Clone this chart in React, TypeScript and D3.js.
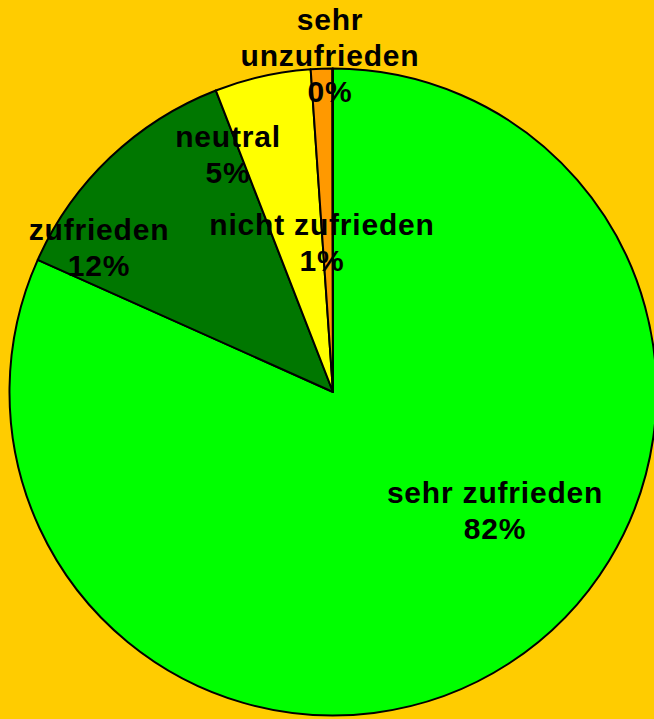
import { useEffect, useRef } from 'react';
import * as d3 from 'd3';

// Zufriedenheit – Anteile in Prozent
const categories = ['sehr zufrieden', 'zufrieden', 'neutral', 'nicht zufrieden', 'sehr unzufrieden'];
const values = [81.7, 12.4, 4.8, 1.07, 0.03];
const percentLabels = ['82%', '12%', '5%', '1%', '0%'];
const sliceColors = ['#00FF00', '#007700', '#FFFF00', '#FF9900', '#FF0000'];
// label lines (split name) and offsets from the pie centre
const labelLines = [['sehr zufrieden'], ['zufrieden'], ['neutral'], ['nicht zufrieden'], ['sehr', 'unzufrieden']];
const labelOffsets: [number, number][] = [[162, 111], [-234, -152], [-105, -245], [-11, -157], [-3, -362]];

const App = () => {
  const svgRef = useRef<SVGSVGElement>(null);

  useEffect(() => {
    const width = 654;
    const height = 719;
    const cx = 333;
    const cy = 392;
    const radius = 323.5;
    const fontSize = 30;
    const lineH = 36;

    const svg = d3.select(svgRef.current)
      .attr('width', width)
      .attr('height', height);
    svg.selectAll('*').remove();

    svg.append('rect')
      .attr('width', width)
      .attr('height', height)
      .attr('fill', '#FFCC00');

    const data = categories.map((c, i) => ({ name: c, value: values[i], i }));

    const pie = d3.pie<{ name: string; value: number; i: number }>()
      .sort(null)
      .value(d => d.value)
      .startAngle(0)
      .endAngle(2 * Math.PI);

    const arc = d3.arc<d3.PieArcDatum<{ name: string; value: number; i: number }>>()
      .innerRadius(0)
      .outerRadius(radius);

    const g = svg.append('g').attr('transform', `translate(${cx},${cy})`);

    g.selectAll('path')
      .data(pie(data))
      .join('path')
      .attr('d', arc)
      .attr('fill', d => sliceColors[d.data.i])
      .attr('stroke', '#000')
      .attr('stroke-width', 2)
      .attr('stroke-linejoin', 'round');

    const labels = g.append('g')
      .attr('font-family', 'Liberation Sans, Arial, sans-serif')
      .attr('font-weight', 'bold')
      .attr('font-size', fontSize)
      .attr('letter-spacing', 0.8)
      .attr('text-anchor', 'middle')
      .attr('fill', '#000');

    data.forEach((d, i) => {
      const [ox, oy] = labelOffsets[i];
      const lines = [...labelLines[i], percentLabels[i]];
      const t = labels.append('text')
        .attr('x', ox)
        .attr('y', oy);
      lines.forEach((line, k) => {
        t.append('tspan')
          .attr('x', ox)
          .attr('dy', k === 0 ? 0 : lineH)
          .text(line);
      });
    });
  }, []);

  return (
    <svg ref={svgRef} style={{ position: 'absolute', left: 0, top: 0, display: 'block' }} />
  );
};

export default App;
